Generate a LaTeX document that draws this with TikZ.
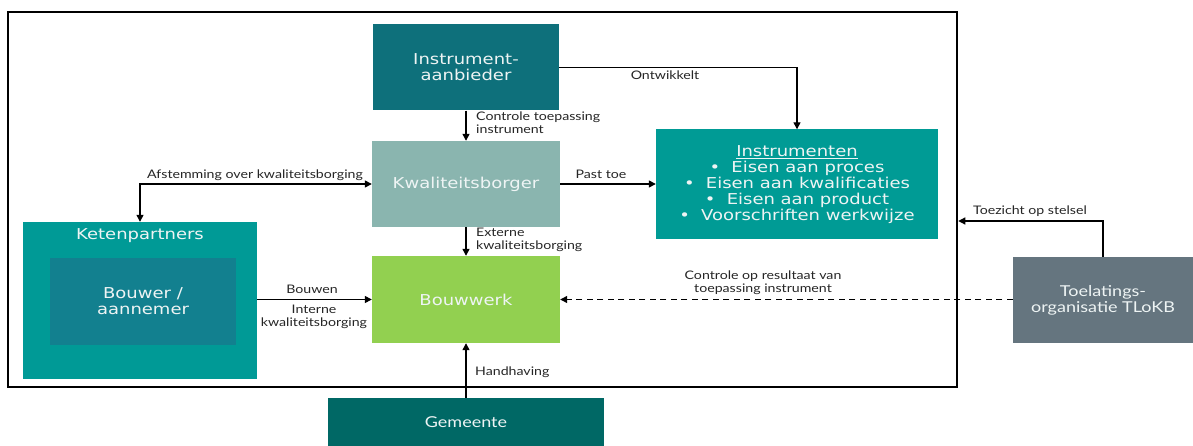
\documentclass[tikz,border=0pt]{standalone}
\usepackage{fontspec}
\setmainfont[FakeStretch=1.2]{DejaVu Sans}
\newfontfamily\lblfont[FakeStretch=1.2]{Lato}
\usetikzlibrary{arrows.meta}
\definecolor{cia}{HTML}{0E707B}
\definecolor{ckb}{HTML}{8AB5AF}
\definecolor{cins}{HTML}{009B95}
\definecolor{ckp}{HTML}{009A96}
\definecolor{cbo}{HTML}{12808F}
\definecolor{cbw}{HTML}{92D050}
\definecolor{cgm}{HTML}{006865}
\definecolor{ctl}{HTML}{65757F}
\definecolor{txt}{HTML}{EEF4F4}
\begin{document}
\begin{tikzpicture}[x=1pt,y=-1pt,
  box/.style={draw=none, text=txt, align=center, inner sep=0pt, font=\fontsize{15}{16}\selectfont},
  gbox/.style={box, font=\lblfont\fontsize{15}{16}\selectfont},
  lbl/.style={font=\lblfont\fontsize{11.8}{13}\selectfont, text=black!85, inner sep=1pt},
  conn/.style={line width=1.3pt, -{Triangle[length=7pt,width=7pt]}},
  dconn/.style={line width=1.3pt, {Triangle[length=7pt,width=7pt]}-{Triangle[length=7pt,width=7pt]}}
]
\useasboundingbox (0,0) rectangle (1193,446);
\fill[white] (0,0) rectangle (1193,446);

% frame
\node[draw, line width=2.5pt, minimum width=949pt, minimum height=375pt, inner sep=0pt] (frame) at (482.5,199.5) {};

% boxes
\node[box, fill=cia, minimum width=186pt, minimum height=86pt] (ia) at (466,67.5) {Instrument-\\aanbieder};
\node[box, fill=ckb, minimum width=188pt, minimum height=86pt] (kb) at (466,184) {Kwaliteitsborger};
\node[box, fill=cbw, minimum width=188pt, minimum height=87pt] (bw) at (466,299.5) {Bouwwerk};
\node[gbox, fill=cgm, minimum width=276pt, minimum height=48pt] (gm) at (466,422) {Gemeente};
\node[box, fill=cins, minimum width=282pt, minimum height=110pt] (ins) at (797,184.5)
  {\underline{Instrumenten}\\
   \textbullet\hspace{0.75em}Eisen aan proces\\
   \textbullet\hspace{0.75em}Eisen aan kwalificaties\\
   \textbullet\hspace{0.75em}Eisen aan product\\
   \textbullet\hspace{0.75em}Voorschriften werkwijze};
\node[box, fill=ckp, minimum width=234pt, minimum height=157pt] (kp) at (140,300.5) {};
\node[box] (kpt) at (140,236) {Ketenpartners};
\node[box, fill=cbo, minimum width=186pt, minimum height=87pt] (bo) at (143,301.5) {Bouwer /\\aannemer};
\node[gbox, fill=ctl, minimum width=180pt, minimum height=86pt] (tl) at (1103,300) {Toelatings-\\organisatie TLoKB};

% connectors
\draw[conn] (ia.south) -- (kb.north);
\draw[conn] (ia.east) -| (ins.north);
\draw[conn] (kb.east) -- (kb.east -| ins.west);
\draw[dconn] (kp.north) |- (kb.west);
\draw[conn] (kb.south) -- (bw.north);
\draw[conn] (kp.east |- bw.west) -- (bw.west);
\draw[conn] (gm.north) -- (bw.south);
\draw[conn, dashed, dash pattern=on 6pt off 4.5pt] (tl.west |- bw.east) -- (bw.east);
\draw[conn] (tl.north) |- (frame.east |- 0,221);

% labels
\node[lbl, anchor=north west, align=left] (l1) at (475,111) {Controle toepassing\\instrument};
\node[lbl] (l2) at (665,75) {Ontwikkelt};
\node[lbl] (l3) at (601,174) {Past toe};
\node[lbl] (l4) at (255,175) {Afstemming over kwaliteitsborging};
\node[lbl, anchor=north west, align=left] (l5) at (475,227) {Externe\\kwaliteitsborging};
\node[lbl] (l6) at (312,289) {Bouwen};
\node[lbl, align=center] (l7) at (314,317) {Interne\\kwaliteitsborging};
\node[lbl, anchor=west] (l8) at (474,372) {Handhaving};
\node[lbl, align=center] (l9) at (763,283) {Controle op resultaat van\\toepassing instrument};
\node[lbl] (l10) at (1030,211) {Toezicht op stelsel};
\end{tikzpicture}
\end{document}
